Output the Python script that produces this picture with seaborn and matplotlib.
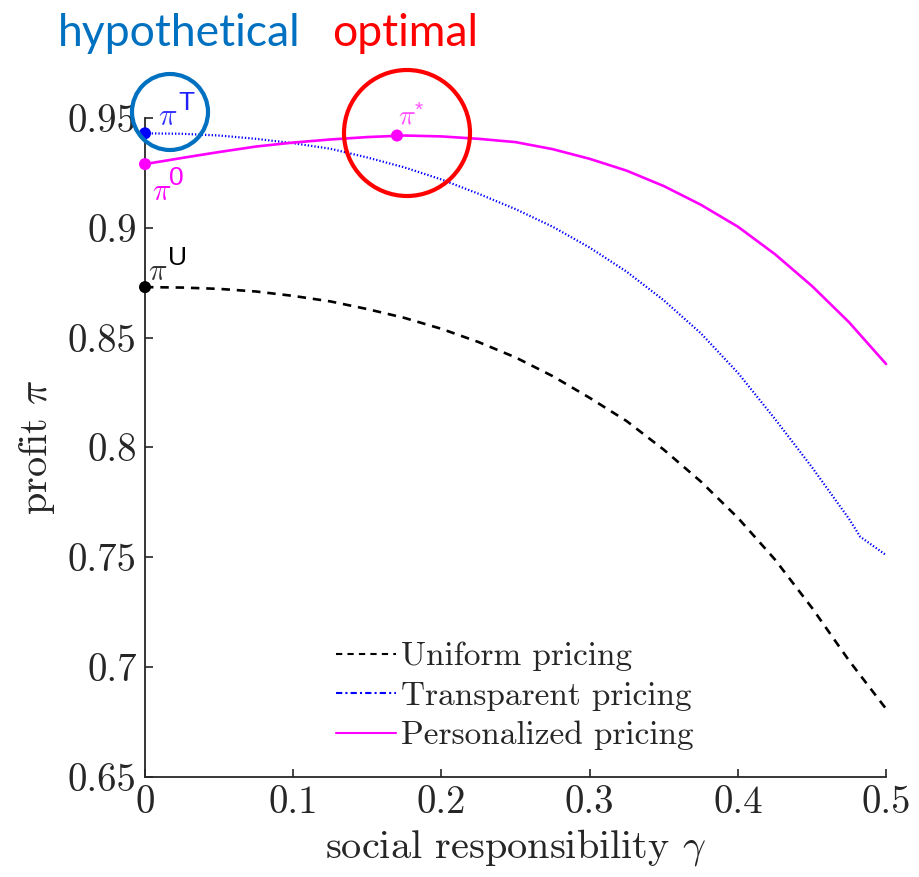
import numpy as np
import pandas as pd
import matplotlib
matplotlib.use("Agg")
import matplotlib.pyplot as plt
from matplotlib.lines import Line2D
from matplotlib.patches import Ellipse
import seaborn as sns

# values
gamma = [0.0, 0.025, 0.05, 0.075, 0.1, 0.125, 0.15, 0.175, 0.2, 0.225, 0.25,
         0.275, 0.3, 0.325, 0.35, 0.375, 0.4, 0.425, 0.45, 0.475, 0.5]
uniform = [0.873, 0.8728, 0.8722, 0.871, 0.869, 0.8665, 0.863, 0.859, 0.854, 0.848, 0.841,
           0.8325, 0.8226, 0.812, 0.799, 0.7845, 0.768, 0.749, 0.727, 0.703, 0.681]
personalized = [0.929, 0.9318, 0.9345, 0.937, 0.9388, 0.9402, 0.9413, 0.942, 0.9416, 0.9405, 0.939,
                0.9358, 0.9314, 0.926, 0.919, 0.9105, 0.9005, 0.888, 0.8735, 0.857, 0.838]
gamma_t = [0.0, 0.025, 0.05, 0.075, 0.1, 0.125, 0.15, 0.175, 0.2, 0.225, 0.25,
           0.275, 0.3, 0.325, 0.35, 0.375, 0.4, 0.425, 0.45, 0.475, 0.4825, 0.5]
transparent = [0.943, 0.9428, 0.942, 0.9405, 0.9385, 0.936, 0.932, 0.9275, 0.922, 0.9155, 0.9085,
               0.9005, 0.891, 0.880, 0.867, 0.852, 0.834, 0.813, 0.791, 0.7675, 0.7594, 0.751]

# special points: pi^U, pi^0, pi^T, pi^*
pts_x = [0.0, 0.0, 0.0, 0.17]
pts_y = [0.873, 0.929, 0.943, 0.942]
pts_color = ["black", "#ff00ff", "#0000ff", "#ff00ff"]

legend_labels = ["Uniform pricing", "Transparent pricing", "Personalized pricing"]

sns.set_theme(style="ticks")
plt.rcParams["font.family"] = ["cmr10"]
plt.rcParams["mathtext.fontset"] = "cm"
plt.rcParams["axes.unicode_minus"] = False
plt.rcParams["axes.formatter.use_mathtext"] = True

fig = plt.figure(figsize=(9.19, 8.77), dpi=100)
ax = fig.add_axes([0.1578, 0.1140, 0.8064, 0.7515])

df_u = pd.DataFrame({"gamma": gamma, "profit": uniform})
df_p = pd.DataFrame({"gamma": gamma, "profit": personalized})
df_t = pd.DataFrame({"gamma": gamma_t, "profit": transparent})

sns.lineplot(data=df_u, x="gamma", y="profit", ax=ax, color="black", lw=1.9,
             linestyle=(0, (3.2, 2.6)), clip_on=False)
sns.lineplot(data=df_t, x="gamma", y="profit", ax=ax, color="#0000ff", lw=1.6,
             linestyle=(0, (0.6, 0.9)), clip_on=False)
sns.lineplot(data=df_p, x="gamma", y="profit", ax=ax, color="#ff00ff", lw=1.9, clip_on=False)
ax.scatter(pts_x, pts_y, c=pts_color, s=75, zorder=5, clip_on=False, linewidths=0)

ax.set_xlim(0, 0.5)
ax.set_ylim(0.65, 0.95)
ax.set_xticks([0, 0.1, 0.2, 0.3, 0.4, 0.5])
ax.set_xticklabels(["0", "0.1", "0.2", "0.3", "0.4", "0.5"])
ax.set_yticks([0.65, 0.7, 0.75, 0.8, 0.85, 0.9, 0.95])
ax.set_yticklabels(["0.65", "0.7", "0.75", "0.8", "0.85", "0.9", "0.95"])
ax.tick_params(direction="in", length=6, width=1.2, labelsize=28, colors="#262626", pad=6)
for s in ["top", "right"]:
    ax.spines[s].set_visible(False)
for s in ["left", "bottom"]:
    ax.spines[s].set_linewidth(1.3)
    ax.spines[s].set_color("#262626")
ax.set_xlabel(r"social responsibility $\gamma$", fontsize=29, color="#262626", labelpad=4)
ax.set_ylabel(r"profit $\pi$", fontsize=29, color="#262626", labelpad=8)

# point labels: italic pi plus a sans-serif superscript
sans = ["Liberation Sans", "DejaVu Sans"]
ax.text(0.0088, 0.9468, r"$\pi$", color="#3535ff", fontsize=22, va="baseline")
ax.text(0.0225, 0.9536, "T", color="#2020ff", fontsize=19, family=sans, va="baseline")
ax.text(0.0047, 0.9127, r"$\pi$", color="#ff00ff", fontsize=22, va="baseline")
ax.text(0.0165, 0.9195, "0", color="#ff00ff", fontsize=19, family=sans, va="baseline")
ax.text(0.0020, 0.8763, r"$\pi$", color="#333333", fontsize=22, va="baseline")
ax.text(0.0155, 0.8831, "U", color="black", fontsize=19, family=sans, va="baseline")
ax.text(0.1707, 0.9477, r"$\pi$", color="#ff50ff", fontsize=20, va="baseline")
ax.text(0.1820, 0.9578, "*", color="#ff50ff", fontsize=15, family=sans, va="top")

handles = [
    Line2D([], [], color="black", lw=1.5, linestyle=(0, (3, 2.5))),
    Line2D([], [], color="#0000ff", lw=1.5, linestyle=(0, (3, 1.5, 1, 1.5))),
    Line2D([], [], color="#ff00ff", lw=1.5),
]
ax.legend(handles, legend_labels, loc="upper left", bbox_to_anchor=(0.258, 0.205),
          frameon=False, fontsize=24, handlelength=1.8, handletextpad=0.15,
          labelspacing=0.3, borderaxespad=0, borderpad=0)

# highlight circles and headings
W, H = 919, 877
fig.add_artist(Ellipse((170 / W, 1 - 112 / H), 76 / W, 76 / H, transform=fig.transFigure,
                       fill=False, edgecolor="#0070c0", lw=3))
fig.add_artist(Ellipse((407 / W, 1 - 133 / H), 126 / W, 126 / H, transform=fig.transFigure,
                       fill=False, edgecolor="#ff0000", lw=3))
fig.text(58 / W, 1 - 46 / H, "hypothetical", color="#0070c0", fontsize=32,
         family=["Lato"], ha="left", va="baseline")
fig.text(332 / W, 1 - 46 / H, "optimal", color="#ff0000", fontsize=32,
         family=["Lato"], ha="left", va="baseline")

fig.savefig("out.png", dpi=100)
